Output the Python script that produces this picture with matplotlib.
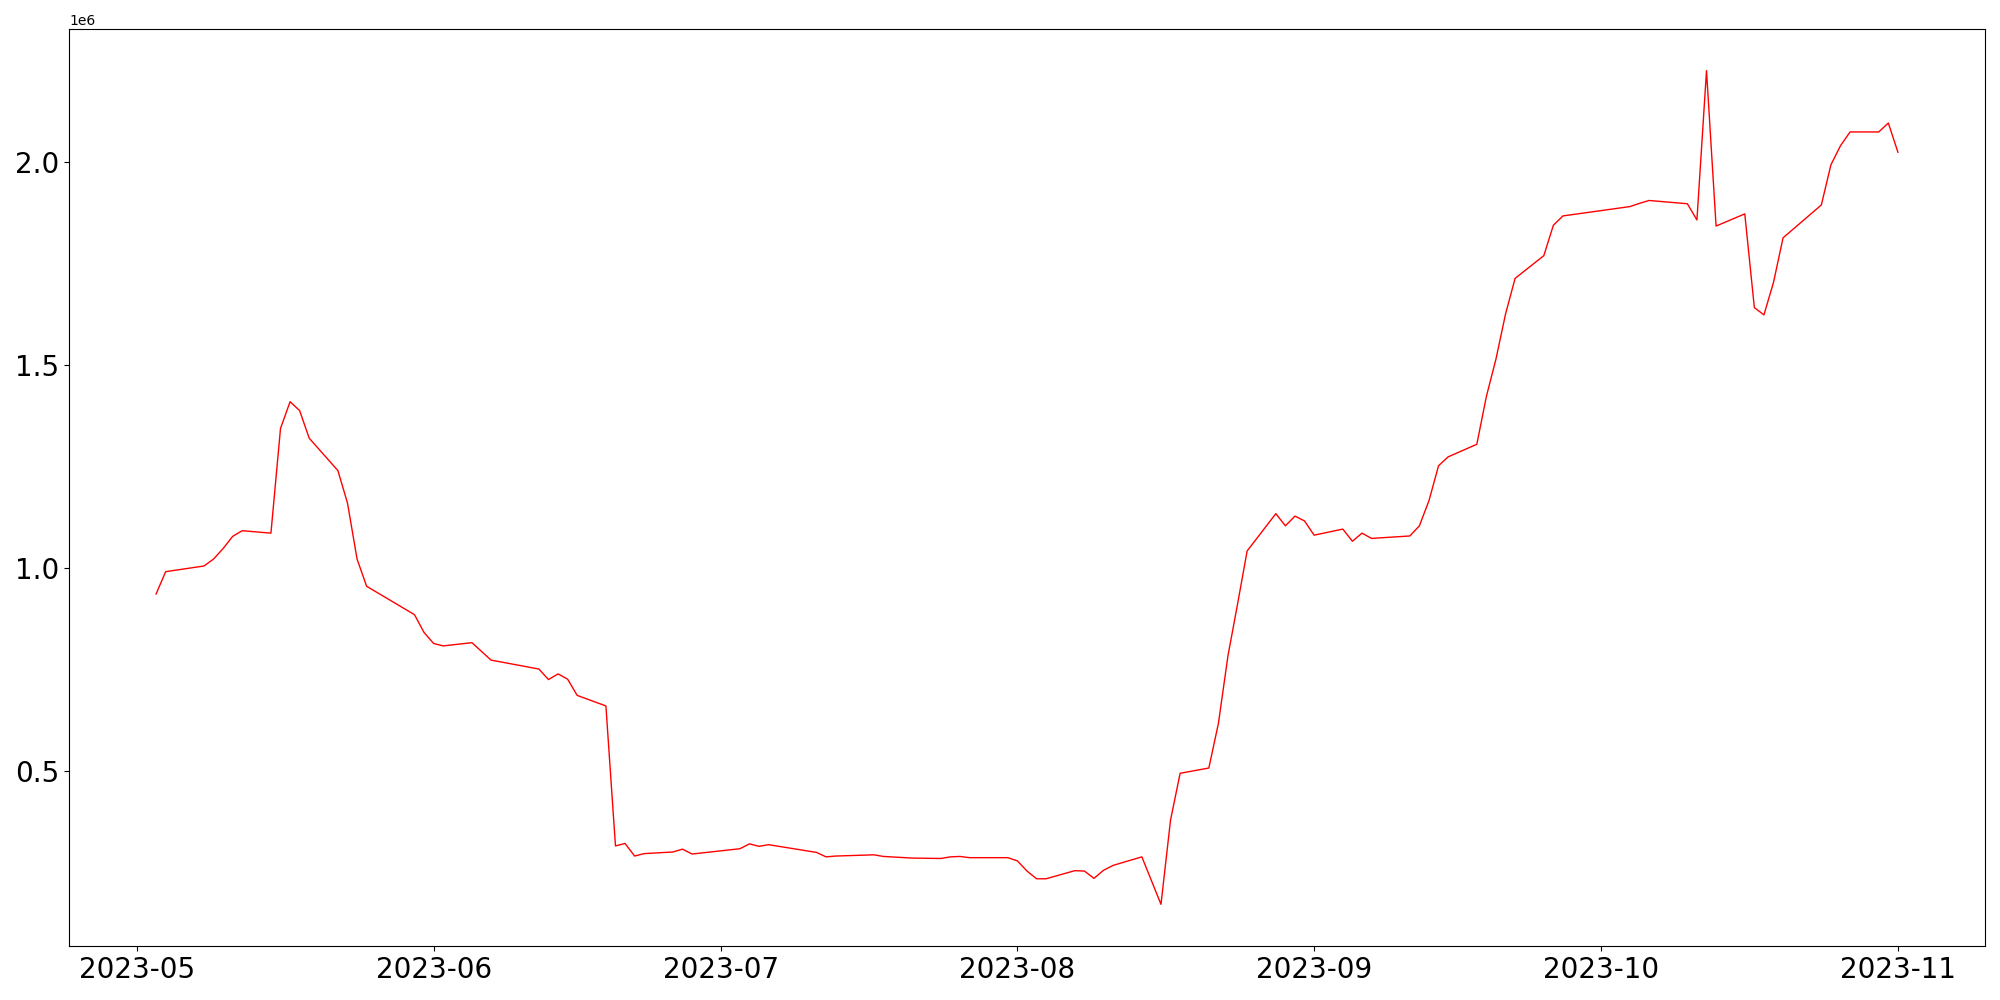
import matplotlib.pyplot as plt
import pandas as pd

# ---- data ----
dates = [
    '2023-05-03', '2023-05-04', '2023-05-08', '2023-05-09', '2023-05-10',
    '2023-05-11', '2023-05-12', '2023-05-15', '2023-05-16', '2023-05-17',
    '2023-05-18', '2023-05-19', '2023-05-22', '2023-05-23', '2023-05-24',
    '2023-05-25', '2023-05-30', '2023-05-31', '2023-06-01', '2023-06-02',
    '2023-06-05', '2023-06-07', '2023-06-12', '2023-06-13', '2023-06-14',
    '2023-06-15', '2023-06-16', '2023-06-19', '2023-06-20', '2023-06-21',
    '2023-06-22', '2023-06-23', '2023-06-26', '2023-06-27', '2023-06-28',
    '2023-07-03', '2023-07-04', '2023-07-05', '2023-07-06', '2023-07-11',
    '2023-07-12', '2023-07-13', '2023-07-17', '2023-07-18', '2023-07-21',
    '2023-07-24', '2023-07-25', '2023-07-26', '2023-07-27', '2023-07-31',
    '2023-08-01', '2023-08-02', '2023-08-03', '2023-08-04', '2023-08-07',
    '2023-08-08', '2023-08-09', '2023-08-10', '2023-08-11', '2023-08-14',
    '2023-08-16', '2023-08-17', '2023-08-18', '2023-08-21', '2023-08-22',
    '2023-08-23', '2023-08-24', '2023-08-25', '2023-08-28', '2023-08-29',
    '2023-08-30', '2023-08-31', '2023-09-01', '2023-09-04', '2023-09-05',
    '2023-09-06', '2023-09-07', '2023-09-11', '2023-09-12', '2023-09-13',
    '2023-09-14', '2023-09-15', '2023-09-18', '2023-09-19', '2023-09-20',
    '2023-09-21', '2023-09-22', '2023-09-25', '2023-09-26', '2023-09-27',
    '2023-10-04', '2023-10-05', '2023-10-06', '2023-10-10', '2023-10-11',
    '2023-10-12', '2023-10-13', '2023-10-16', '2023-10-17', '2023-10-18',
    '2023-10-19', '2023-10-20', '2023-10-24', '2023-10-25', '2023-10-26',
    '2023-10-27', '2023-10-30', '2023-10-31', '2023-11-01',
]
values = [
    936000, 991000, 1005000, 1022000, 1048000,
    1078000, 1092000, 1086000, 1344000, 1410000,
    1388000, 1320000, 1240000, 1160000, 1022000,
    955000, 885000, 841000, 814000, 808000,
    816000, 773000, 751000, 725000, 739000,
    726000, 686000, 660000, 315000, 321000,
    290000, 296000, 300000, 307000, 295000,
    308000, 320000, 314000, 318000, 299000,
    288000, 290000, 293000, 289000, 285000,
    284000, 288000, 289000, 286000, 286000,
    278000, 253000, 234000, 234000, 254000,
    253000, 235000, 255000, 267000, 288000,
    171000, 379000, 494000, 507000, 617000,
    784000, 911000, 1042000, 1134000, 1104000,
    1128000, 1116000, 1081000, 1096000, 1066000,
    1086000, 1073000, 1079000, 1104000, 1166000,
    1252000, 1274000, 1305000, 1423000, 1515000,
    1626000, 1714000, 1770000, 1845000, 1868000,
    1891000, 1899000, 1906000, 1898000, 1858000,
    2226000, 1843000, 1873000, 1642000, 1624000,
    1704000, 1814000, 1895000, 1994000, 2041000,
    2075000, 2075000, 2097000, 2025000,
]

dates = pd.to_datetime(dates)

# ---- 描画 ----
fig, ax = plt.subplots(figsize=(20, 10), dpi=100)
fig.subplots_adjust(left=0.0345, right=0.9925, top=0.971, bottom=0.054)

ax.plot(dates, values, color='red', linewidth=1.0)

plt.xticks(fontsize=20)
plt.yticks(fontsize=20)

plt.savefig("out.png", dpi=100)
